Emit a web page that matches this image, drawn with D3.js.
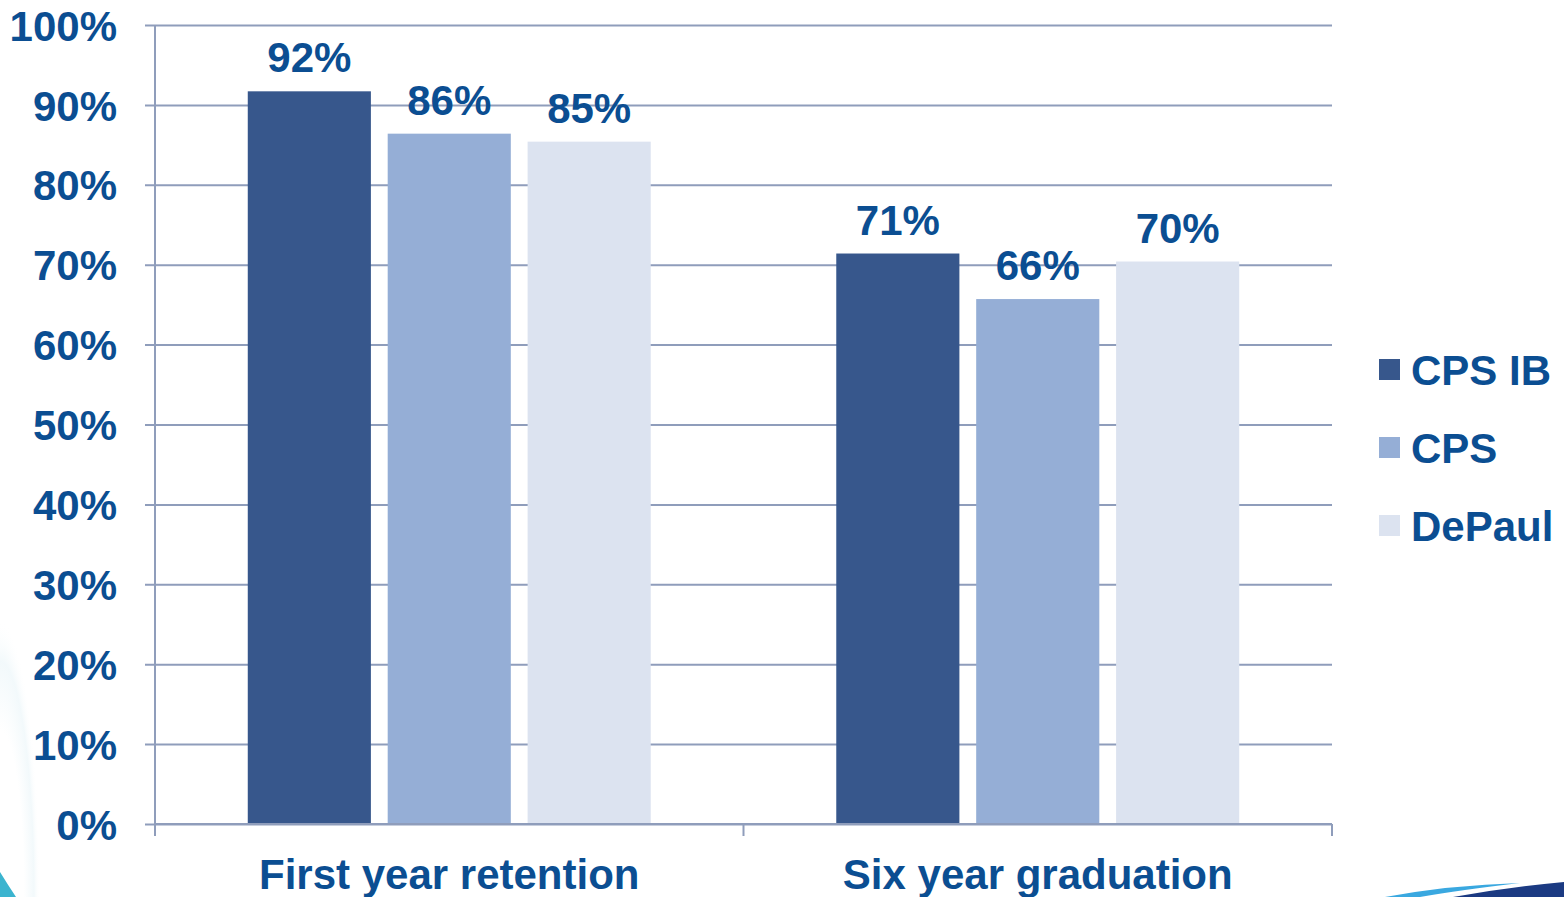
<!DOCTYPE html>
<html>
<head>
<meta charset="utf-8">
<script src="https://cdn.jsdelivr.net/npm/d3@7"></script>
<style>
  html, body { margin: 0; padding: 0; background: #fff; overflow: hidden; }
  svg { display: block; }
  text { font-family: "Liberation Sans", Arial, sans-serif; font-weight: bold; fill: #0B4E92; }
</style>
</head>
<body>
<svg id="chart" width="1564" height="897"></svg>
<script>
const categories = ["First year retention", "Six year graduation"];
const series = ["CPS IB", "CPS", "DePaul"];
const cpsIB = [91.7, 71.4];
const cps = [86.4, 65.7];
const dePaul = [85.4, 70.4];
const yTicks = [0, 10, 20, 30, 40, 50, 60, 70, 80, 90, 100];
const colors = ["#37578C", "#95AED6", "#DCE3F0"];

(function () {
const seriesValues = [cpsIB, cps, dePaul];
const data = categories.map((c, i) => ({
  category: c,
  values: series.map((s, j) => ({ series: s, value: seriesValues[j][i] }))
}));

const svg = d3.select("#chart");
const mLeft = 155, mRight = 1332, mTop = 25, mBottom = 824;
const gridColor = "#8F9DBB";

// decorations (bottom corners)
const defs = svg.append("defs");
const lg = defs.append("radialGradient").attr("id", "glow").attr("cx", "0").attr("cy", "1").attr("r", "1");
lg.append("stop").attr("offset", "0.6").attr("stop-color", "#E3F2F7").attr("stop-opacity", 0);
lg.append("stop").attr("offset", "0.85").attr("stop-color", "#E3F2F7").attr("stop-opacity", 0.45);
lg.append("stop").attr("offset", "1").attr("stop-color", "#ffffff").attr("stop-opacity", 0);
svg.append("rect").attr("x", 0).attr("y", 620).attr("width", 40).attr("height", 277).attr("fill", "url(#glow)");
svg.append("path").attr("d", "M0,872 Q8,885 16,897 L0,897 Z").attr("fill", "#3BB4CF");
svg.append("path").attr("d", "M1385,897 Q1450,885 1520,883 Q1460,890 1420,897 Z").attr("fill", "#3AA8E0");
svg.append("path").attr("d", "M1453,897 Q1510,887 1564,882 L1564,897 Z").attr("fill", "#1B3A82");

const x0 = d3.scaleBand().domain(categories).range([mLeft, mRight]).paddingInner(0).paddingOuter(0);
const x1 = d3.scaleBand().domain(series).range([0, x0.bandwidth()]).paddingInner(0.12).paddingOuter(0.663);
const y = d3.scaleLinear().domain([0, 100]).range([mBottom, mTop]);
const color = d3.scaleOrdinal().domain(series).range(colors);

// gridlines + y axis
const yAxis = d3.axisLeft(y).tickValues(yTicks).tickSize(0).tickPadding(0).tickFormat(d => d + "%");
const gy = svg.append("g").attr("transform", `translate(${mLeft - 10},0)`).call(yAxis);
gy.select(".domain").remove();
gy.selectAll(".tick line").attr("x1", 0).attr("x2", mRight - mLeft + 10).attr("stroke", gridColor).attr("stroke-width", 2);
gy.selectAll(".tick text").attr("x", -28).attr("dy", "0.36em").attr("font-size", 42).attr("text-anchor", "end")
  .style("font-family", '"Liberation Sans", Arial, sans-serif').style("font-weight", "bold").attr("fill", "#0B4E92");

// bars
const groups = svg.append("g").selectAll("g").data(data).join("g")
  .attr("transform", d => `translate(${x0(d.category)},0)`);
groups.selectAll("rect").data(d => d.values).join("rect")
  .attr("x", d => x1(d.series))
  .attr("y", d => y(d.value))
  .attr("width", x1.bandwidth())
  .attr("height", d => y(0) - y(d.value))
  .attr("fill", d => color(d.series));
groups.selectAll("text").data(d => d.values).join("text")
  .attr("x", d => x1(d.series) + x1.bandwidth() / 2)
  .attr("y", d => y(d.value) - 19)
  .attr("text-anchor", "middle")
  .attr("font-size", 42)
  .text(d => d3.format(".0f")(d.value) + "%");

// y axis line
svg.append("line").attr("x1", mLeft).attr("x2", mLeft).attr("y1", mTop).attr("y2", mBottom + 12)
  .attr("stroke", gridColor).attr("stroke-width", 2);

// x axis
const xAxis = d3.axisBottom(x0).tickSize(0).tickPadding(0);
const gx = svg.append("g").attr("transform", `translate(0,${mBottom})`).call(xAxis);
gx.select(".domain").attr("stroke", gridColor).attr("stroke-width", 2).attr("d", `M${mLeft},0H${mRight}`);
gx.selectAll(".tick text").attr("y", 65).attr("dy", 0).attr("font-size", 42)
  .style("font-family", '"Liberation Sans", Arial, sans-serif').style("font-weight", "bold").attr("fill", "#0B4E92");
const boundaries = [mLeft, ...categories.map(c => x0(c) + x0.bandwidth())];
svg.append("g").selectAll("line").data(boundaries).join("line")
  .attr("x1", d => d).attr("x2", d => d).attr("y1", mBottom).attr("y2", mBottom + 12)
  .attr("stroke", gridColor).attr("stroke-width", 2);

// legend
const legend = svg.append("g").selectAll("g").data(series).join("g")
  .attr("transform", (d, i) => `translate(1379,${370 + i * 78})`);
legend.append("rect").attr("x", 0).attr("y", -11).attr("width", 21).attr("height", 21).attr("fill", d => color(d));
legend.append("text").attr("x", 32).attr("y", 15).attr("font-size", 42).text(d => d);
})();
</script>
</body>
</html>
